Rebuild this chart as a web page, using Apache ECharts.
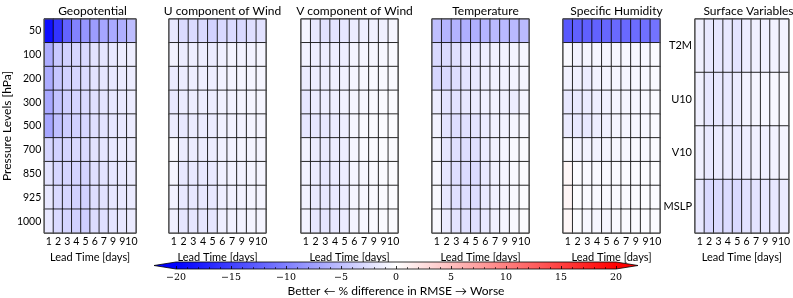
<!DOCTYPE html>
<html><head><meta charset="utf-8">
<script src="https://cdn.jsdelivr.net/npm/echarts@6/dist/echarts.min.js"></script>
<style>html,body{margin:0;padding:0;background:#fff}#c{width:793px;height:298px}</style>
</head><body><div id="c"></div>
<script>
const panelTitles = ['Geopotential','U component of Wind','V component of Wind','Temperature','Specific Humidity','Surface Variables'];
const levels = ['50','100','200','300','500','700','850','925','1000'];
const leadDays = ['1','2','3','4','5','6','7','9','9','10'];
const surfaceVars = ['T2M','U10','V10','MSLP'];
const cbTicks = [-20,-15,-10,-5,0,5,10,15,20];

const geopotential = [
  [-18.8,-16,-12.2,-9.8,-8.2,-7.8,-7,-6.7,-6.3,-5.1],
  [-6.5,-4.3,-3.5,-3.2,-3,-2.2,-2,-1.8,-1.5,-1.3],
  [-6.5,-4.5,-3.5,-3.2,-2.8,-2.2,-2,-1.8,-1.6,-1.4],
  [-6.8,-4.8,-3.8,-3.4,-3,-2.4,-2.1,-1.9,-1.7,-1.5],
  [-7,-5,-4,-3.6,-3.2,-2.5,-2.2,-2,-1.8,-1.5],
  [-3.2,-3.5,-3.3,-3,-2.8,-2.2,-2,-1.8,-1.6,-1.4],
  [-2.2,-3.2,-3.3,-3.4,-3.4,-2.5,-2.2,-2,-1.8,-1.5],
  [-1.8,-3,-3.2,-3.5,-3.6,-2.6,-2.3,-2,-1.8,-1.6],
  [-1.8,-3,-3.3,-3.6,-3.8,-2.7,-2.4,-2.1,-1.9,-1.6]
];
const uWind = [
  [-1.8,-2.8,-2.8,-3,-3.5,-3,-2.8,-3,-2.5,-2.3],
  [-1,-1.5,-1.3,-1.4,-1.5,-1.2,-0.9,-1,-1,-0.8],
  [-1.6,-1.5,-1.3,-1.3,-1.3,-1,-0.9,-0.8,-0.8,-0.7],
  [-1.8,-1.6,-1.4,-1.4,-1.4,-1.1,-1,-0.9,-0.8,-0.7],
  [-1.5,-1.8,-1.6,-1.6,-1.5,-1.1,-1,-1,-0.9,-0.8],
  [-0.5,-1.5,-1.5,-1.5,-1.4,-1.1,-1,-0.9,-0.9,-0.8],
  [-0.8,-1.8,-1.8,-1.8,-1.7,-1.2,-1,-1,-0.9,-0.8],
  [-1,-1.8,-1.9,-1.9,-1.8,-1.3,-1.1,-1,-0.9,-0.8],
  [-1.2,-2,-2,-2,-2,-1.3,-1.1,-1,-0.9,-0.8]
];
const vWind = [
  [-0.8,-1.8,-2.3,-2.2,-2,-1.5,-1.3,-1.2,-1.2,-0.8],
  [-1,-1.3,-1.4,-1.4,-1.3,-0.9,-0.8,-0.7,-0.6,-0.5],
  [-1.5,-1.4,-1.3,-1.2,-1.1,-0.8,-0.6,-0.5,-0.5,-0.4],
  [-2,-1.6,-1.4,-1.3,-1.1,-0.8,-0.6,-0.5,-0.4,-0.3],
  [-2,-2,-1.8,-1.6,-1.3,-0.7,-0.5,-0.4,-0.3,-0.2],
  [-1,-1.6,-1.6,-1.5,-1.3,-0.7,-0.5,-0.4,-0.3,-0.3],
  [-1,-1.6,-1.8,-1.6,-1.4,-0.8,-0.6,-0.5,-0.4,-0.3],
  [-1,-1.7,-1.8,-1.7,-1.5,-0.8,-0.6,-0.5,-0.4,-0.3],
  [-1,-2,-2,-1.8,-1.6,-0.9,-0.6,-0.5,-0.4,-0.3]
];
const temperature = [
  [-5,-5.8,-6,-6.3,-6.3,-5.8,-5.5,-5.5,-5.5,-5.3],
  [-3,-2.8,-2.4,-2,-1.8,-1.3,-1.1,-1,-0.9,-0.8],
  [-3.2,-3,-2.6,-2.2,-1.8,-1.3,-1.1,-1,-0.9,-0.8],
  [-1.5,-2.2,-2.2,-1.9,-1.6,-1.2,-1,-1.2,-1.4,-0.9],
  [-1,-2.2,-2.6,-2.4,-2.2,-1.5,-1.2,-1,-0.8,-0.6],
  [-0.8,-2,-2.4,-2.6,-2.5,-1.5,-1.1,-0.8,-0.5,-0.4],
  [-0.6,-2,-2.6,-2.8,-2.8,-1.7,-1.1,-0.8,-0.5,-0.3],
  [-0.5,-1.8,-2.4,-2.6,-2.7,-1.7,-1.1,-0.8,-0.5,-0.3],
  [-0.5,-1.6,-2.2,-2.4,-2.5,-1.7,-1.1,-0.8,-0.5,-0.3]
];
const specificHumidity = [
  [-13,-12.5,-12.5,-12.3,-12,-11.8,-11.8,-11.5,-11.3,-11],
  [-0.5,-1,-0.9,-0.8,-0.8,-0.7,-0.6,-0.6,-0.6,-0.5],
  [-1,-1.2,-1.5,-1,-0.9,-0.8,-0.7,-0.6,-0.6,-0.5],
  [-1.8,-1.7,-1.6,-1.3,-1.1,-0.9,-0.8,-0.7,-0.6,-0.5],
  [-1.6,-1.8,-1.8,-1.4,-1.2,-0.9,-0.8,-0.7,-0.6,-0.5],
  [-0.5,-1,-1,-1,-0.9,-0.7,-0.6,-0.5,-0.5,-0.4],
  [0.6,-0.3,-0.5,-0.5,-0.5,-0.4,-0.3,-0.3,-0.3,-0.2],
  [0.8,-0.2,-0.4,-0.5,-0.5,-0.4,-0.4,-0.3,-0.3,-0.3],
  [0.6,-0.3,-0.6,-0.7,-0.7,-0.5,-0.4,-0.4,-0.3,-0.3]
];
const surface = [
  [-1.2,-1.8,-1.9,-1.8,-2.2,-1.4,-1.2,-1.1,-1,-1],
  [-1.2,-2,-1.8,-1.8,-1.6,-1,-0.8,-0.7,-0.6,-0.5],
  [-1.2,-1.8,-1.6,-1.6,-1.8,-1.4,-1.2,-1.2,-1,-0.8],
  [-1.8,-3,-2.8,-2.8,-3,-2.3,-2.2,-2,-1.8,-1.6]
];

const matrices = [geopotential,uWind,vWind,temperature,specificHumidity,surface];
const gridLefts = [39,169,301,432,563,695];
const GW = 97, GT = 19, GH = 214;
const sans = 'Lato';
const chart = echarts.init(document.getElementById('c'), null, {renderer:'canvas'});

const grids = [], xAxes = [], yAxes = [], series = [], titles = [];
matrices.forEach((m, i) => {
  grids.push({left: gridLefts[i], top: GT, width: GW, height: GH, show: true, borderColor: '#555', borderWidth: 1, z: 10, backgroundColor: 'transparent'});
  xAxes.push({
    type: 'category', gridIndex: i, data: leadDays,
    axisLine: {show: false}, axisTick: {show: false}, splitLine: {show: false},
    axisLabel: {interval: 0, fontFamily: sans, fontSize: 10.5, color: '#000', margin: 3},
    name: 'Lead Time [days]', nameLocation: 'middle', nameGap: 15,
    nameTextStyle: {fontFamily: sans, fontSize: 11, color: '#000'}
  });
  const isSurf = i === 5;
  yAxes.push({
    type: 'category', gridIndex: i, data: isSurf ? surfaceVars : levels, inverse: true,
    axisLine: {show: false}, axisTick: {show: false}, splitLine: {show: false},
    axisLabel: {show: i === 0 || isSurf, interval: 0, fontFamily: sans, fontSize: isSurf ? 11 : 10.5, color: '#000', margin: 3},
    name: i === 0 ? 'Pressure Levels [hPa]' : '', nameLocation: 'middle', nameGap: 25, nameRotate: 90,
    nameTextStyle: {fontFamily: sans, fontSize: 12, color: '#000'}
  });
  const data = [];
  m.forEach((row, r) => row.forEach((v, c) => data.push([c, r, v])));
  series.push({
    type: 'heatmap', xAxisIndex: i, yAxisIndex: i, data: data,
    itemStyle: {borderColor: '#000', borderWidth: 0.8},
    emphasis: {disabled: true}, silent: true
  });
  titles.push({
    text: panelTitles[i], left: gridLefts[i] + GW / 2, top: 0, textAlign: 'center',
    textStyle: {fontFamily: sans, fontSize: 12, fontWeight: 'normal', color: '#000'}
  });
});

// colorbar grid
grids.push({left: 176, top: 262, width: 440, height: 8});
xAxes.push({
  type: 'value', gridIndex: 6, min: -20, max: 20, interval: 5,
  axisLine: {show: false}, splitLine: {show: false},
  axisTick: {show: true, inside: true, length: 3, lineStyle: {color: '#000', width: 0.8}},
  minorTick: {show: true, splitNumber: 5, length: 2, lineStyle: {color: '#000', width: 0.6}},
  axisLabel: {fontFamily: 'DejaVu Serif', fontSize: 9.5, color: '#000', margin: 4,
    formatter: v => (v < 0 ? '\u2212' + Math.abs(v) : String(v))},
  name: 'Better \u2190 % difference in RMSE \u2192 Worse', nameLocation: 'middle', nameGap: 16,
  nameTextStyle: {fontFamily: sans, fontSize: 12, color: '#000'}, z: 10
});
yAxes.push({type: 'value', gridIndex: 6, min: 0, max: 1, show: false});
series.push({
  type: 'custom', xAxisIndex: 6, yAxisIndex: 6, data: [[cbTicks[0], cbTicks[cbTicks.length - 1]]], silent: true, z: 1,
  renderItem: (params, api) => {
    const p0 = api.coord([api.value(0), 1]);
    const p1 = api.coord([api.value(1), 0]);
    const x0 = p0[0], x1 = p1[0], y0 = p0[1], y1 = p1[1];
    const ext = (x1 - x0) * 0.05;
    const ym = (y0 + y1) / 2;
    return {type: 'group', children: [
      {type: 'rect', shape: {x: x0, y: y0, width: x1 - x0, height: y1 - y0},
       style: {fill: new echarts.graphic.LinearGradient(0, 0, 1, 0, [
         {offset: 0, color: '#0000ff'}, {offset: 0.5, color: '#ffffff'}, {offset: 1, color: '#ff0000'}])}},
      {type: 'polygon', shape: {points: [[x0, y0], [x0 - ext, ym], [x0, y1]]}, style: {fill: '#0000ff'}},
      {type: 'polygon', shape: {points: [[x1, y0], [x1 + ext, ym], [x1, y1]]}, style: {fill: '#ff0000'}},
      {type: 'polygon', shape: {points: [[x0, y0], [x1, y0], [x1 + ext, ym], [x1, y1], [x0, y1], [x0 - ext, ym]]},
       style: {fill: null, stroke: '#000', lineWidth: 0.8}}
    ]};
  }
});

chart.setOption({
  animation: false,
  title: titles,
  grid: grids, xAxis: xAxes, yAxis: yAxes,
  visualMap: {type: 'continuous', min: -20, max: 20, show: false, seriesIndex: [0,1,2,3,4,5],
    inRange: {color: ['#0000ff', '#ffffff', '#ff0000']}},
  series: series
});
</script></body></html>
